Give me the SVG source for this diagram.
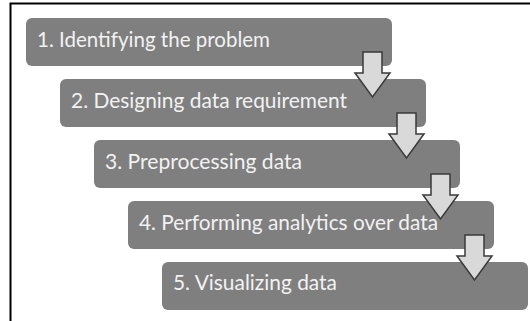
<svg xmlns="http://www.w3.org/2000/svg" width="530" height="321" viewBox="0 0 530 321">
<style>
.box{fill:#7f7f7f}
.lbl{font-family:Lato,"Open Sans","Liberation Sans",sans-serif;font-size:21.5px;fill:#f2f2f2}
.arr{fill:#d9d9d9;stroke:#3a3a3a;stroke-width:1.5;stroke-linejoin:miter}
.frame{stroke:#000;stroke-width:2;fill:none}
</style>
<rect width="530" height="321" fill="#fff"/>
<path class="frame" d="M10.5 321 V3.5 H530"/>
<g id="node1"><rect class="box" x="26" y="18" width="366" height="48" rx="6"/><text class="lbl" x="37" y="47" textLength="233" lengthAdjust="spacingAndGlyphs">1. Identifying the problem</text></g>
<g id="node2"><rect class="box" x="60" y="79" width="366" height="48" rx="6"/><text class="lbl" x="71" y="108" textLength="276" lengthAdjust="spacingAndGlyphs">2. Designing data requirement</text></g>
<g id="node3"><rect class="box" x="94" y="140" width="366" height="48" rx="6"/><text class="lbl" x="105" y="169" textLength="197" lengthAdjust="spacingAndGlyphs">3. Preprocessing data</text></g>
<g id="node4"><rect class="box" x="128" y="201" width="366" height="48" rx="6"/><text class="lbl" x="139" y="230" textLength="299" lengthAdjust="spacingAndGlyphs">4. Performing analytics over data</text></g>
<g id="node5"><rect class="box" x="162" y="262" width="366" height="48" rx="6"/><text class="lbl" x="173" y="290" textLength="164" lengthAdjust="spacingAndGlyphs">5. Visualizing data</text></g>
<g id="connectors">
<path class="arr" d="M363 52 H382 V73 H390 L372.5 97 L355 73 H363 Z"/>
<path class="arr" d="M397 113 H416 V134 H424 L406.5 158 L389 134 H397 Z"/>
<path class="arr" d="M431 174 H450 V195 H458 L440.5 219 L423 195 H431 Z"/>
<path class="arr" d="M465 235 H484 V256 H492 L474.5 280 L457 256 H465 Z"/>
</g>
</svg>
